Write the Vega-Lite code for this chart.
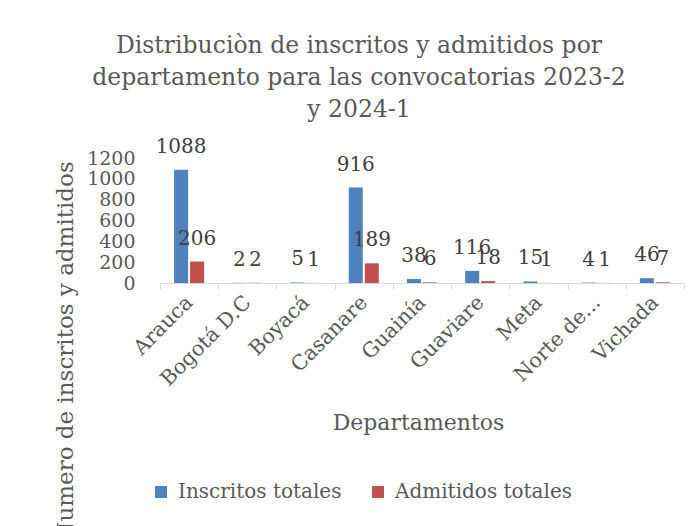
{
  "$schema": "https://vega.github.io/schema/vega-lite/v6.json",
  "width": 524,
  "height": 125,
  "autosize": {"type": "none"},
  "padding": {"left": 160, "top": 158, "right": 9, "bottom": 243},
  "background": "white",
  "title": {
    "text": ["Distribuciòn de inscritos y admitidos por", "departamento para las convocatorias 2023-2", "y 2024-1"],
    "anchor": "middle",
    "frame": "group",
    "dx": -63,
    "offset": 15,
    "font": "DejaVu Serif",
    "fontSize": 23.5,
    "fontWeight": "normal",
    "color": "#595959",
    "lineHeight": 32
  },
  "config": {
    "view": {"stroke": null},
    "font": "DejaVu Serif"
  },
  "data": {
    "values": [
      {"departamento": "Arauca", "serie": "Inscritos totales", "valor": 1088},
      {"departamento": "Arauca", "serie": "Admitidos totales", "valor": 206},
      {"departamento": "Bogotá D.C", "serie": "Inscritos totales", "valor": 2},
      {"departamento": "Bogotá D.C", "serie": "Admitidos totales", "valor": 2},
      {"departamento": "Boyacá", "serie": "Inscritos totales", "valor": 5},
      {"departamento": "Boyacá", "serie": "Admitidos totales", "valor": 1},
      {"departamento": "Casanare", "serie": "Inscritos totales", "valor": 916},
      {"departamento": "Casanare", "serie": "Admitidos totales", "valor": 189},
      {"departamento": "Guainía", "serie": "Inscritos totales", "valor": 38},
      {"departamento": "Guainía", "serie": "Admitidos totales", "valor": 6},
      {"departamento": "Guaviare", "serie": "Inscritos totales", "valor": 116},
      {"departamento": "Guaviare", "serie": "Admitidos totales", "valor": 18},
      {"departamento": "Meta", "serie": "Inscritos totales", "valor": 15},
      {"departamento": "Meta", "serie": "Admitidos totales", "valor": 1},
      {"departamento": "Norte de...", "serie": "Inscritos totales", "valor": 4},
      {"departamento": "Norte de...", "serie": "Admitidos totales", "valor": 1},
      {"departamento": "Vichada", "serie": "Inscritos totales", "valor": 46},
      {"departamento": "Vichada", "serie": "Admitidos totales", "valor": 7}
    ]
  },
  "encoding": {
    "x": {
      "field": "departamento",
      "type": "nominal",
      "sort": null,
      "scale": {"paddingInner": 0, "paddingOuter": 0},
      "axis": {
        "title": "Departamentos",
        "titleFont": "DejaVu Serif",
        "titleFontSize": 22,
        "titleFontWeight": "normal",
        "titleColor": "#595959",
        "titleX": 258,
        "titleY": 139,
        "titleAlign": "center",
        "titleBaseline": "middle",
        "labelAngle": -45,
        "labelAlign": "right",
        "labelBaseline": "middle",
        "labelFont": "DejaVu Serif",
        "labelFontSize": 20.5,
        "labelColor": "#595959",
        "labelPadding": 10,
        "tickBand": "extent",
        "tickSize": 6,
        "tickColor": "#d9d9d9",
        "domainColor": "#d9d9d9",
        "labelOverlap": false
      }
    },
    "xOffset": {
      "field": "serie",
      "type": "nominal",
      "sort": ["Inscritos totales", "Admitidos totales"],
      "scale": {"paddingInner": 0.125, "paddingOuter": 0.88}
    },
    "y": {
      "field": "valor",
      "type": "quantitative",
      "scale": {"domain": [0, 1200], "nice": false},
      "axis": {
        "title": "Numero de inscritos y admitidos",
        "titleFont": "DejaVu Serif",
        "titleFontSize": 23,
        "titleFontWeight": "normal",
        "titleColor": "#595959",
        "titleAngle": -90,
        "titleX": -88,
        "titleY": 193,
        "titleAlign": "center",
        "titleBaseline": "alphabetic",
        "values": [0, 200, 400, 600, 800, 1000, 1200],
        "format": "d",
        "labelFont": "DejaVu Serif",
        "labelFontSize": 19,
        "labelColor": "#595959",
        "labelPadding": 25,
        "ticks": false,
        "domain": false,
        "grid": false
      }
    }
  },
  "layer": [
    {
      "mark": {"type": "bar"},
      "encoding": {
        "color": {
          "field": "serie",
          "type": "nominal",
          "scale": {"domain": ["Inscritos totales", "Admitidos totales"], "range": ["#4F81BD", "#C0504D"]},
          "legend": {
            "title": null,
            "orient": "none",
            "direction": "horizontal",
            "columns": 2,
            "legendX": -9,
            "legendY": 324,
            "symbolType": "square",
            "symbolSize": 144,
            "symbolStrokeWidth": 0,
            "labelFont": "DejaVu Serif",
            "labelFontSize": 20,
            "labelColor": "#595959",
            "labelOffset": 7,
            "columnPadding": 26,
            "padding": 0,
            "labelLimit": 400
          }
        }
      }
    },
    {
      "mark": {"type": "text", "baseline": "alphabetic", "dy": -17, "font": "DejaVu Serif", "fontSize": 20, "color": "#404040"},
      "encoding": {
        "text": {"field": "valor", "type": "quantitative"}
      }
    }
  ]
}
